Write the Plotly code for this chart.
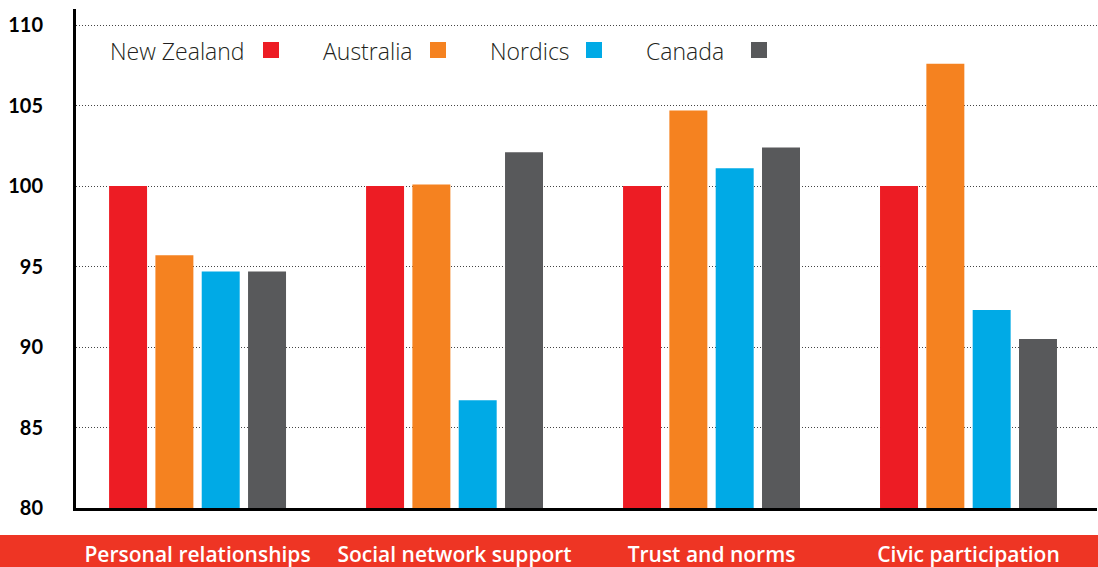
import plotly.graph_objects as go

categories = ["Personal relationships", "Social network support", "Trust and norms", "Civic participation"]
series_names = ["New Zealand", "Australia", "Nordics", "Canada"]
new_zealand = [100.0, 100.0, 100.0, 100.0]
australia = [95.7, 100.1, 104.7, 107.6]
nordics = [94.7, 86.7, 101.1, 92.3]
canada = [94.7, 102.1, 102.4, 90.5]
y_ticks = [80, 85, 90, 95, 100, 105, 110]

colors = ["#ED1C24", "#F58220", "#00AAE6", "#58595B"]
values = [new_zealand, australia, nordics, canada]

W, H = 1098, 567
L, R, T, B = 76, 1, 9, 59
pw, ph = W - L - R, H - T - B

def px(x):
    return (x - L) / pw

def py(y):
    return (H - B - y) / ph

fig = go.Figure()
for name, vals, col in zip(series_names, values, colors):
    fig.add_trace(go.Bar(x=categories, y=vals, name=name, marker=dict(color=col, line=dict(width=0)),
                         showlegend=False))

# red band behind category labels
fig.add_shape(type="rect", xref="paper", yref="paper", x0=px(-5), x1=px(W + 5), y0=py(535), y1=py(H + 5),
              fillcolor="#EE3524", line=dict(width=0), layer="below")

# legend: text then square
legend_text_x = [108, 321, 488, 644]
legend_sq_x = [263, 430, 586, 751]
for name, col, tx, sx in zip(series_names, colors, legend_text_x, legend_sq_x):
    fig.add_annotation(x=px(tx), y=py(51), xref="paper", yref="paper", text=name, showarrow=False,
                       xanchor="left", yanchor="middle",
                       font=dict(family="Open Sans", size=23, color="#231F20", weight=300))
    fig.add_shape(type="rect", xref="paper", yref="paper", x0=px(sx), x1=px(sx + 16), y0=py(58), y1=py(42),
                  fillcolor=col, line=dict(width=0))

fig.update_layout(
    width=W, height=H,
    margin=dict(l=L, r=R, t=T, b=B, pad=0),
    paper_bgcolor="white", plot_bgcolor="white",
    barmode="group", bargap=0.279, bargroupgap=0.18,
    showlegend=False,
    xaxis=dict(range=[-0.473, 3.5], showgrid=False, showline=True, linecolor="#000000", linewidth=3,
               ticks="", ticklabelstandoff=26, automargin=False,
               tickfont=dict(family="Open Sans", size=21, color="white", weight=600)),
    yaxis=dict(range=[80, 111], tickvals=y_ticks, showgrid=True, gridcolor="#444444", griddash="1px,2px",
               gridwidth=1, showline=True, linecolor="#000000", linewidth=3, zeroline=False,
               ticks="", ticklabelstandoff=26, automargin=False,
               tickfont=dict(family="Lato", size=20, color="#000000", weight=700)),
)

fig.write_html(
    "out.html",
    config={"displayModeBar": False},
    post_script="document.body.style.margin='0';document.body.style.overflow='hidden';"
                "document.documentElement.style.overflow='hidden';",
)
